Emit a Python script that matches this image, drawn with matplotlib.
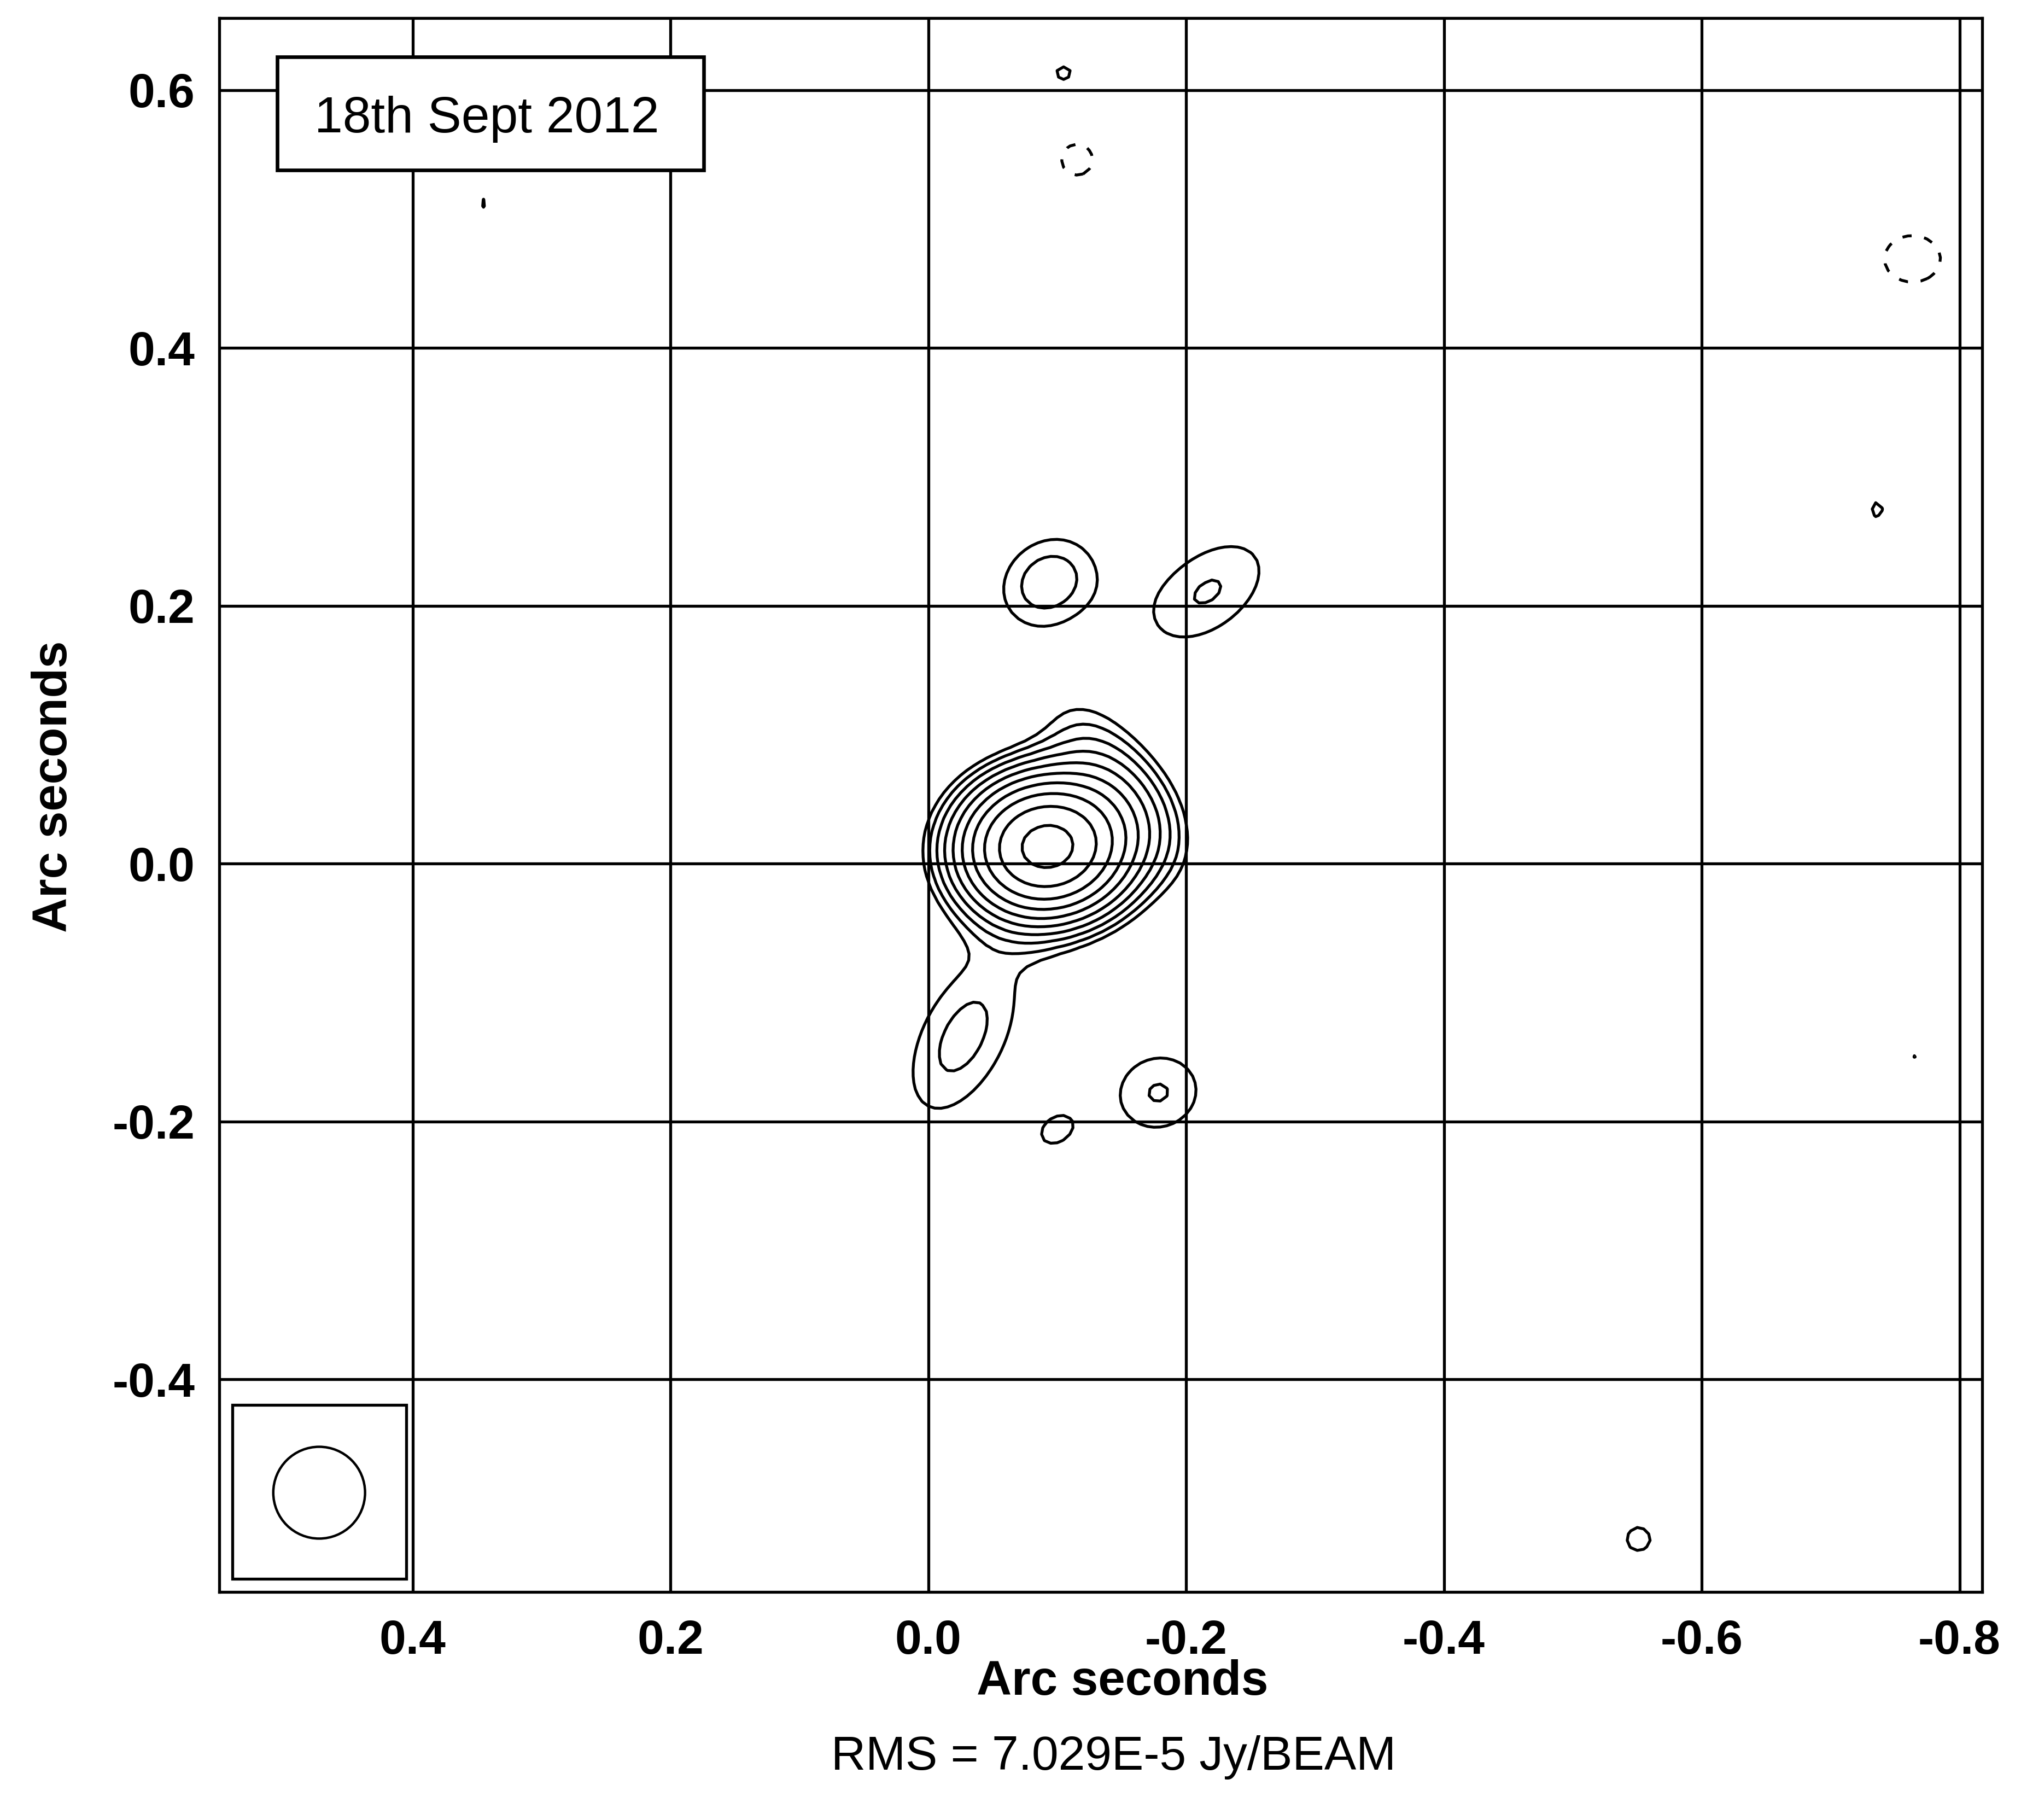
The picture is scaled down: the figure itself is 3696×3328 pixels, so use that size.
import numpy as np
import matplotlib
matplotlib.use("Agg")
import matplotlib.pyplot as plt
from matplotlib.patches import Rectangle, Ellipse

plt.rcParams['font.family'] = ['Liberation Sans', 'DejaVu Sans']

# map noise and contour levels (multiples of 3 x rms)
rms = 7.029e-5 * 1e3          # mJy/beam
lev_mult = [-1, 1, 1.414, 2, 2.828, 4, 5.657, 8, 11.31, 16, 22.63, 32]
levels = [3 * rms * m for m in lev_mult]

# gaussian components of the map (offsets in arcsec, peak in mJy/beam,
# sigma along / across the axis in arcsec, axis angle in degrees)
comp_x    = [-0.0923, -0.1452, -0.0271, -0.0931, -0.2168, -0.1784, -0.0990, -0.1050,  0.3450, -0.7360, -0.7660, -0.5510, -0.1155, -0.7635]
comp_y    = [ 0.0132,  0.0632, -0.1345,  0.2188,  0.2108, -0.1777, -0.2070,  0.6130,  0.5120,  0.2744, -0.1485, -0.5240,  0.5460,  0.4690]
comp_peak = [ 5.450,   0.4021,  0.3306,  0.3608,  0.3058,  0.3058,  0.2636,  0.2341,  0.2235,  0.2320,  0.2193,  0.2530, -0.2530, -0.2741]
comp_s1   = [ 0.0378,  0.0525,  0.0634,  0.0293,  0.0528,  0.0344,  0.0160,  0.0120,  0.0060,  0.0100,  0.0080,  0.0150,  0.0200,  0.0300]
comp_s2   = [ 0.0313,  0.0248,  0.0329,  0.0350,  0.0316,  0.0308,  0.0120,  0.0120,  0.0100,  0.0130,  0.0080,  0.0150,  0.0200,  0.0250]
comp_pa   = [ 174.1,   54.2,    116.9,   53.9,    142.8,   161.4,   143.0,   0.0,     0.0,     0.0,     0.0,     0.0,     0.0,     0.0]

beam_fwhm = 0.0712

gx = np.arange(-0.83, 0.56, 0.005)
gy = np.arange(-0.57, 0.66, 0.005)
GX, GY = np.meshgrid(gx, gy)
img = np.zeros_like(GX)
for x0, y0, a, s1, s2, pa in zip(comp_x, comp_y, comp_peak, comp_s1, comp_s2, comp_pa):
    th = np.deg2rad(pa)
    dx, dy = GX - x0, GY - y0
    u = dx * np.cos(th) + dy * np.sin(th)
    v = -dx * np.sin(th) + dy * np.cos(th)
    img += a * np.exp(-u**2 / (2 * s1**2) - v**2 / (2 * s2**2))

fig = plt.figure(figsize=(36.96, 33.28), dpi=100)
ax = fig.add_axes([401/3696, 1 - 2911/3328, (3625 - 401)/3696, (2911 - 33)/3328])
ax.set_xlim(0.550, -0.8176)
ax.set_ylim(-0.565, 0.6558)

ax.contour(GX, GY, img, levels=levels, colors='black', linewidths=3.8,
           linestyles=[(0, (3.2, 4.4))] + ['solid'] * (len(levels) - 1))

xt = [0.4, 0.2, 0.0, -0.2, -0.4, -0.6, -0.8]
yt = [-0.4, -0.2, 0.0, 0.2, 0.4, 0.6]
ax.set_xticks(xt)
ax.set_xticklabels(['%.1f' % v for v in xt])
ax.set_yticks(yt)
ax.set_yticklabels(['%.1f' % v for v in yt])
ax.grid(True, color='black', linewidth=3.8)
ax.tick_params(axis='both', length=0, labelsize=63)
ax.tick_params(axis='x', pad=36)
ax.tick_params(axis='y', pad=32)
for lab in ax.get_xticklabels() + ax.get_yticklabels():
    lab.set_fontweight('bold')
for sp in ax.spines.values():
    sp.set_linewidth(3.8)

# date label
ax.add_patch(Rectangle((0.505, 0.5377), 0.174 - 0.505, 0.6255 - 0.5377, fill=True,
                       facecolor='white', edgecolor='black', linewidth=4.8, zorder=4))
ax.text(0.3425, 0.5673, '18th Sept 2012', fontsize=67, ha='center', va='baseline', zorder=5)

# restoring beam
ax.add_patch(Rectangle((0.540, -0.555), 0.405 - 0.540, 0.135, fill=True,
                       facecolor='white', edgecolor='black', linewidth=3.8, zorder=4))
ax.add_patch(Ellipse((0.4725, -0.488), beam_fwhm, beam_fwhm, fill=False,
                     edgecolor='black', linewidth=3.2, zorder=5))

fig.text(2053/3696, 1 - 3076/3328, 'Arc seconds', fontsize=64, fontweight='bold', ha='center', va='center')
fig.text(99/3696, 1 - 1438/3328, 'Arc seconds', fontsize=64, fontweight='bold', ha='center', va='center', rotation=90)
fig.text(2036/3696, 1 - 3213/3328, 'RMS = 7.029E-5 Jy/BEAM', fontsize=63, ha='center', va='center')

fig.savefig('out.png', dpi=100)
